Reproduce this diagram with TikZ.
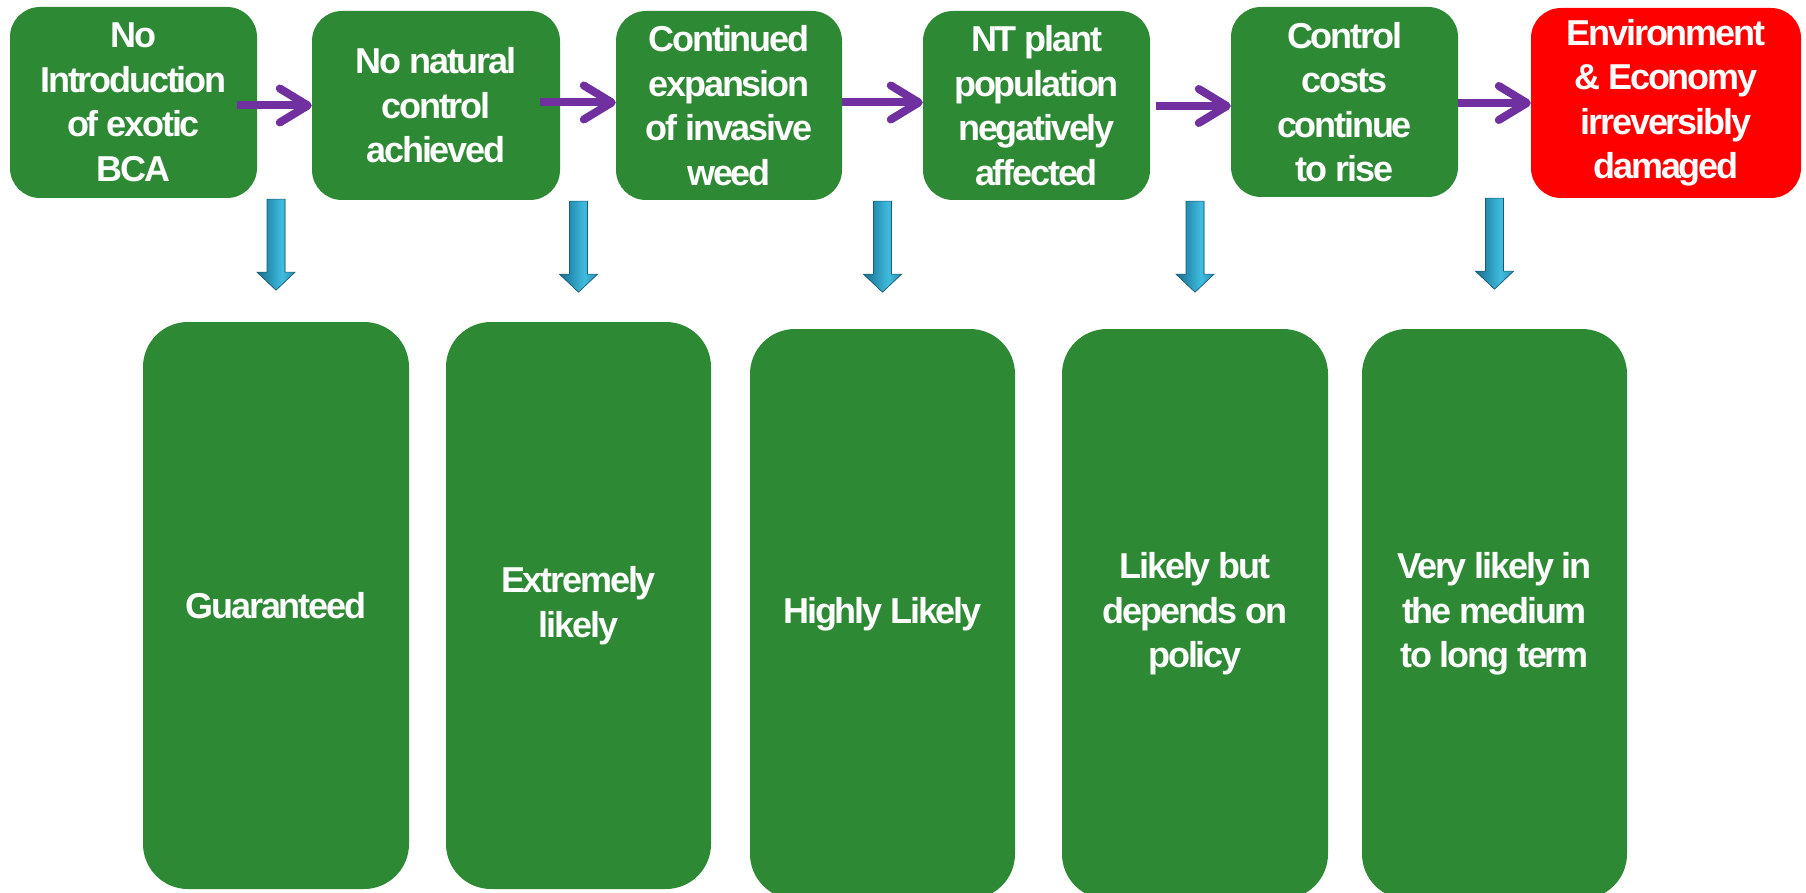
\documentclass[tikz,border=0pt]{standalone}
\usepackage{fontspec}
\setmainfont{Liberation Sans}[LetterSpace=-6]
\usetikzlibrary{arrows.meta,calc}
\definecolor{boxgreen}{RGB}{46,137,53}
\definecolor{boxred}{RGB}{255,0,0}
\definecolor{arrpurple}{RGB}{112,48,160}
\definecolor{bluedark}{RGB}{28,110,140}
\definecolor{bluemid}{RGB}{42,150,185}
\definecolor{bluelight}{RGB}{64,188,222}
\definecolor{blueedge}{RGB}{45,140,175}
\pgfdeclarehorizontalshading{bluearrshade}{100bp}{color(0bp)=(bluedark); color(25bp)=(bluedark); color(42bp)=(bluemid); color(58bp)=(bluelight); color(75bp)=(blueedge); color(100bp)=(blueedge)}
\newcommand\blueArrow[2]{%
  \path (#2.north |- #1.south) coordinate (#2top);
  \fill[shading=bluearrshade, draw=bluedark!85!black, line width=0.6pt]
    ($(#2top)+(-9,1)$) -- ($(#2top)+(9,1)$) -- ($(#2top)+(9,74)$) -- ($(#2top)+(19,74)$)
    -- ($(#2top)+(0,92)$) -- ($(#2top)+(-19,74)$) -- ($(#2top)+(-9,74)$) -- cycle;
}
\begin{document}
\begin{tikzpicture}[x=1pt,y=-1pt,
  boxtext/.style={text=white, font=\bfseries\fontsize{36}{44.5}\selectfont, align=center, inner sep=0pt},
  topbox/.style={boxtext, rounded corners=30pt, fill=boxgreen},
  redbox/.style={boxtext, rounded corners=30pt, fill=boxred},
  lowbox/.style={boxtext, rounded corners=45pt, fill=boxgreen},
  parrow/.style={arrpurple, line width=8pt, -{Straight Barb[length=28pt,width=34pt,round]}}]
\useasboundingbox (0,0) rectangle (1806,893);
\fill[white] (0,0) rectangle (1806,893);

% top row
\node[topbox, minimum width=247pt, minimum height=191pt] (b1) at (133.5,102.5) {No\\Introduction\\of exotic\\BCA};
\node[topbox, minimum width=248pt, minimum height=189pt] (b2) at (436,105.5) {No natural\\control\\achieved};
\node[topbox, minimum width=226pt, minimum height=189pt] (b3) at (729,105.5) {Continued\\expansion\\of invasive\\weed};
\node[topbox, minimum width=227pt, minimum height=189pt] (b4) at (1036.5,105.5) {NT plant\\population\\negatively\\affected};
\node[topbox, minimum width=227pt, minimum height=190pt] (b5) at (1344.5,102) {Control\\costs\\continue\\to rise};
\node[redbox, minimum width=270pt, minimum height=190pt] (b6) at (1666,103) {Environment\\\& Economy\\irreversibly\\damaged};

% bottom row
\node[lowbox, minimum width=266pt, minimum height=567pt] (l1) at (276,605.5) {Guaranteed};
\node[lowbox, minimum width=265pt, minimum height=567pt] (l2) at (578.5,605.5) {Extremely\\likely};
\node[lowbox, minimum width=265pt, minimum height=570pt] (l3) at (882.5,614) {Highly Likely};
\node[lowbox, minimum width=266pt, minimum height=570pt] (l4) at (1195,614) {Likely but\\depends on\\policy};
\node[lowbox, minimum width=265pt, minimum height=570pt] (l5) at (1494.5,614) {Very likely in\\the medium\\to long term};

% purple arrows
\draw[parrow] ($(b2.west -| b1.east)+(-20,0)$) -- (b2.west);
\draw[parrow] ($(b3.west -| b2.east)+(-20,-3)$) -- ($(b3.west)+(0,-3)$);
\draw[parrow] ($(b4.west -| b3.east)+(0,-3)$) -- ($(b4.west)+(0,-3)$);
\draw[parrow] ($(b5.west -| b4.east)+(6,4)$) -- ($(b5.west)+(0,4)$);
\draw[parrow] ($(b6.west -| b5.east)$) -- (b6.west);

% blue arrows
\blueArrow{b1}{l1}
\blueArrow{b2}{l2}
\blueArrow{b3}{l3}
\blueArrow{b4}{l4}
\blueArrow{b5}{l5}
\end{tikzpicture}
\end{document}
